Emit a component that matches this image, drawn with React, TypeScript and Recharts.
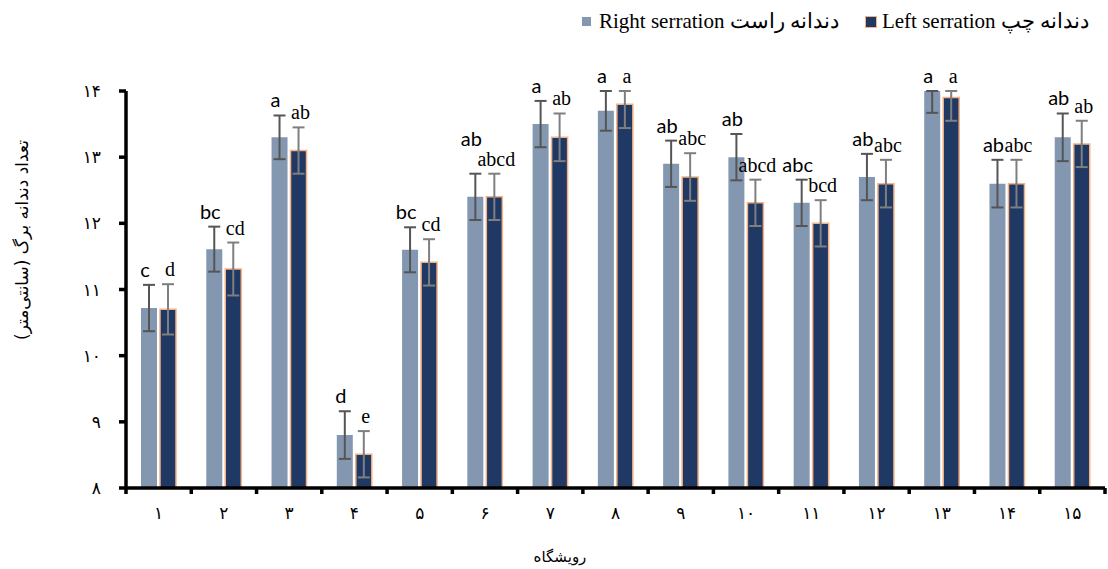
import React from 'react';
import { BarChart, Bar, XAxis, YAxis, ErrorBar, LabelList, Label } from 'recharts';

const categories = ['۱', '۲', '۳', '۴', '۵', '۶', '۷', '۸', '۹', '۱۰', '۱۱', '۱۲', '۱۳', '۱۴', '۱۵'];
const rightValues = [10.72, 11.61, 13.3, 8.8, 11.6, 12.4, 13.5, 13.7, 12.9, 13.0, 12.31, 12.7, 14.0, 12.6, 13.3];
const leftValues = [10.7, 11.31, 13.1, 8.51, 11.41, 12.4, 13.3, 13.8, 12.7, 12.31, 12.0, 12.6, 13.9, 12.6, 13.2];
const rightErrors = [0.35, 0.34, 0.33, 0.36, 0.34, 0.35, 0.35, 0.3, 0.35, 0.35, 0.35, 0.35, 0.33, 0.36, 0.36];
const leftErrors = [0.38, 0.4, 0.35, 0.35, 0.35, 0.35, 0.36, 0.36, 0.36, 0.35, 0.35, 0.36, 0.35, 0.36, 0.35];
const rightLetters = ['c', 'bc', 'a', 'd', 'bc', 'ab', 'a', 'a', 'ab', 'ab', 'abc', 'ab', 'a', 'ab', 'ab'];
const leftLetters = ['d', 'cd', 'ab', 'e', 'cd', 'abcd', 'ab', 'a', 'abc', 'abcd', 'bcd', 'abc', 'a', 'abc', 'ab'];
const yTicks = [8, 9, 10, 11, 12, 13, 14];
const yTickLabels = ['۸', '۹', '۱۰', '۱۱', '۱۲', '۱۳', '۱۴'];
const seriesNames = ['Right serration دندانه راست', 'Left serration دندانه چپ'];
const xTitle = 'رویشگاه';
const yTitle = 'تعداد دندانه برگ (سانتی‌متر)';

const Y_MIN = yTicks[0];
const Y_MAX = yTicks[yTicks.length - 1];

const data = categories.map((c, i) => ({
  cat: c,
  right: rightValues[i],
  left: leftValues[i],
  rightErr: rightErrors[i],
  leftErr: leftErrors[i],
}));

// whiskers are clipped at the top of the axis, as in the reference
const rightErrKey = (d: any) => [d.rightErr, Math.min(d.rightErr, Y_MAX - d.right)];
const leftErrKey = (d: any) => [d.leftErr, Math.min(d.leftErr, Y_MAX - d.left)];

const LIGHT = '#8497B0';
const DARK = '#1F3864';
const ORANGE = '#F4B183';

const visibleTop = (v: number, err: number) => v + Math.min(err, Y_MAX - v);

const makeLabel = (isFirst: boolean, font: string, dx: number) => (props: any) => {
  const vb = props.viewBox || {};
  const x = Number(props.x ?? vb.x);
  const y = Number(props.y ?? vb.y);
  const width = Number(props.width ?? vb.width);
  const height = Number(props.height ?? vb.height);
  const index = props.index;
  const values = isFirst ? rightValues : leftValues;
  const errors = isFirst ? rightErrors : leftErrors;
  const letters = isFirst ? rightLetters : leftLetters;
  const v = values[index];
  const ppu = height / (v - Y_MIN);
  const bottom = y + height;
  const top = bottom - (visibleTop(v, errors[index]) - Y_MIN) * ppu;
  let lift = 0;
  if (isFirst) {
    const otherTop = bottom - (visibleTop(leftValues[index], leftErrors[index]) - Y_MIN) * ppu;
    if (Math.abs(otherTop - top) < 6 && rightLetters[index].length + leftLetters[index].length > 5) lift = 20;
  }
  return (
    <text x={x + width / 2 + dx} y={top - 8 - lift} textAnchor="middle" fontFamily={font} fontSize={20} fill="#000">
      {letters[index]}
    </text>
  );
};

const XTick = (props: any) => {
  const { x, y, payload, index } = props;
  const half = payload && typeof payload.offset === 'number' && payload.offset > 0 ? payload.offset : 32.63;
  return (
    <g>
      <rect x={x - half - 1.75} y={y} width={3.5} height={6} fill="#000" />
      {index === categories.length - 1 ? <rect x={x + half - 1.75} y={y} width={3.5} height={6} fill="#000" /> : null}
      <text x={x} y={y + 31} textAnchor="middle" fontFamily="'DejaVu Sans', sans-serif" fontSize={17} fill="#000">
        {payload.value}
      </text>
    </g>
  );
};

const YTick = (props: any) => {
  const { x, y, payload } = props;
  const idx = yTicks.indexOf(payload.value);
  return (
    <text x={x} y={y} dy={6} textAnchor="end" fontFamily="'DejaVu Sans', sans-serif" fontSize={17} fill="#000">
      {idx >= 0 ? yTickLabels[idx] : payload.value}
    </text>
  );
};

export default function App() {
  return (
    <div style={{ position: 'absolute', left: 0, top: 0, width: 1108, height: 569, background: '#fff' }}>
      <div
        style={{
          position: 'absolute',
          top: 9,
          left: 582,
          display: 'flex',
          alignItems: 'center',
          fontFamily: "'Liberation Serif', serif",
          fontSize: 21,
          whiteSpace: 'nowrap',
          color: '#000',
          zIndex: 2,
        }}
      >
        <span style={{ display: 'inline-block', width: 9, height: 9, background: LIGHT }} />
        <span style={{ marginLeft: 8 }}>{seriesNames[0]}</span>
        <span
          style={{
            display: 'inline-block',
            width: 10,
            height: 10,
            background: DARK,
            border: `1.5px solid ${ORANGE}`,
            marginLeft: 26,
          }}
        />
        <span style={{ marginLeft: 5 }}>{seriesNames[1]}</span>
      </div>
      <BarChart
        width={1108}
        height={569}
        data={data}
        margin={{ top: 91, right: 3, bottom: 0, left: 0 }}
        barSize={16}
        barGap={3}
      >
        <XAxis
          dataKey="cat"
          height={81}
          axisLine={{ stroke: '#000', strokeWidth: 3.5 }}
          tickLine={false}
          tickSize={0}
          tickMargin={0}
          interval={0}
          tick={<XTick />}
        >
          <Label
            content={() => (
              <text x={560} y={562} textAnchor="middle" fontFamily="'DejaVu Sans', sans-serif" fontSize={15} fill="#000">
                {xTitle}
              </text>
            )}
          />
        </XAxis>
        <YAxis
          width={126}
          domain={[Y_MIN, Y_MAX]}
          ticks={yTicks}
          interval={0}
          allowDataOverflow
          axisLine={{ stroke: '#000', strokeWidth: 3.5 }}
          tickLine={{ stroke: '#000', strokeWidth: 3.5 }}
          tickSize={7}
          tickMargin={18}
          tick={<YTick />}
        >
          <Label
            content={() => (
              <text
                x={22}
                y={240}
                transform="rotate(-90, 22, 240)"
                textAnchor="middle"
                dominantBaseline="central"
                direction="rtl"
                style={{ direction: 'rtl', unicodeBidi: 'embed' } as any}
                fontFamily="'DejaVu Sans', sans-serif"
                fontSize={17}
                fill="#000"
              >
                {yTitle}
              </text>
            )}
          />
        </YAxis>
        <Bar dataKey="right" fill={LIGHT} isAnimationActive={false}>
          <ErrorBar dataKey={rightErrKey} width={6} stroke="#555" strokeWidth={2} direction="y" />
          <LabelList dataKey="right" content={makeLabel(true, "'Lato', sans-serif", -4)} />
        </Bar>
        <Bar dataKey="left" fill={DARK} stroke={ORANGE} strokeWidth={1.5} isAnimationActive={false}>
          <ErrorBar dataKey={leftErrKey} width={6} stroke="#7f7f7f" strokeWidth={2} direction="y" />
          <LabelList dataKey="left" content={makeLabel(false, "'Liberation Serif', serif", 2)} />
        </Bar>
      </BarChart>
    </div>
  );
}
